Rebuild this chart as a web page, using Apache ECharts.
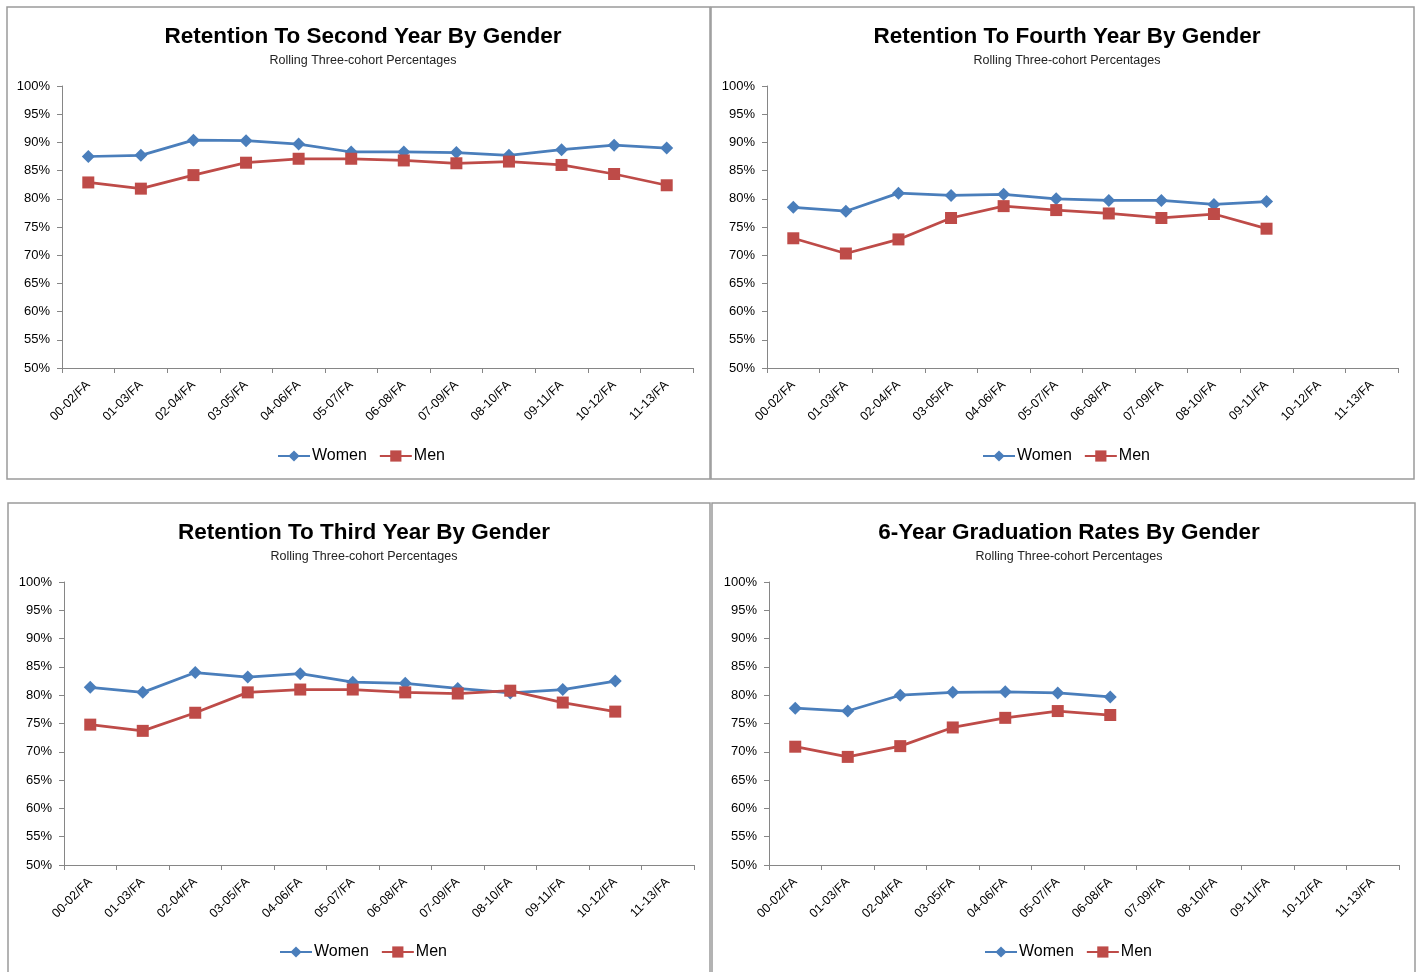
<!DOCTYPE html>
<html>
<head>
<meta charset="utf-8">
<script src="https://cdn.jsdelivr.net/npm/echarts@6/dist/echarts.min.js"></script>
<style>
html,body{margin:0;padding:0;background:#fff;}
#c{width:1416px;height:972px;}
</style>
</head>
<body>
<div id="c"></div>
<script>
// ---- data ----
const categories = ['00-02/FA','01-03/FA','02-04/FA','03-05/FA','04-06/FA','05-07/FA','06-08/FA','07-09/FA','08-10/FA','09-11/FA','10-12/FA','11-13/FA'];
const seriesNames = ['Women','Men'];
const subtitle = 'Rolling Three-cohort Percentages';
const titles = ['Retention To Second Year By Gender','Retention To Fourth Year By Gender','Retention To Third Year By Gender','6-Year Graduation Rates By Gender'];

const secondWomen = [87.5, 87.7, 90.4, 90.3, 89.7, 88.3, 88.3, 88.2, 87.7, 88.7, 89.5, 89.0];
const secondMen   = [82.9, 81.8, 84.2, 86.4, 87.1, 87.1, 86.8, 86.3, 86.6, 86.0, 84.4, 82.4];

const fourthWomen = [78.5, 77.8, 81.0, 80.6, 80.8, 80.0, 79.7, 79.7, 79.0, 79.5];
const fourthMen   = [73.0, 70.3, 72.8, 76.6, 78.7, 78.0, 77.4, 76.6, 77.3, 74.7];

const thirdWomen = [81.4, 80.5, 84.0, 83.2, 83.8, 82.3, 82.1, 81.2, 80.4, 81.0, 82.5];
const thirdMen   = [74.8, 73.7, 76.9, 80.5, 81.0, 81.0, 80.5, 80.3, 80.8, 78.7, 77.1];

const gradWomen = [77.7, 77.2, 80.0, 80.5, 80.6, 80.4, 79.7];
const gradMen   = [70.9, 69.1, 71.0, 74.3, 76.0, 77.2, 76.5];

const yMin = 50, yMax = 100, yStep = 5;

// ---- layout ----
const panelData = [[secondWomen, secondMen],[fourthWomen, fourthMen],[thirdWomen, thirdMen],[gradWomen, gradMen]];
const panels = [
  {box:[7,7,703,472],   grid:{left:62, top:86, width:631, height:282}, tx:358,  ty:20,  lx:272, ly:443},
  {box:[711,7,703,472], grid:{left:767,top:86, width:631, height:282}, tx:1062, ty:20,  lx:977, ly:443},
  {box:[8,503,702,480], grid:{left:64, top:582,width:630, height:283}, tx:359,  ty:516, lx:274, ly:939},
  {box:[712,503,703,480],grid:{left:769,top:582,width:630, height:283}, tx:1064, ty:516, lx:979, ly:939}
];

const blue = '#4A7EBB', red = '#BE4B48', axisCol = '#868686';
const font = '"Liberation Sans", Arial, sans-serif';

const option = {
  backgroundColor:'#fff',
  animation:false,
  title: panels.map((p,i)=>({
    text: titles[i], subtext: subtitle,
    left: p.tx, top: p.ty, textAlign:'center', itemGap: 6,
    textStyle:{fontFamily:font, fontWeight:'bold', fontSize:22.5, color:'#000'},
    subtextStyle:{fontFamily:font, fontSize:12.5, color:'#222'}
  })),
  legend: panels.map((p,i)=>({
    data: seriesNames, left: p.lx, top: p.ly, itemWidth:32, itemHeight:14, itemGap:12,
    textStyle:{fontFamily:font, fontSize:16, color:'#000', padding:[0,0,0,-3]}
  })),
  grid: panels.map(p=>Object.assign({containLabel:false}, p.grid)),
  xAxis: panels.map((p,i)=>({
    type:'category', gridIndex:i, data:categories, boundaryGap:true,
    axisLine:{lineStyle:{color:axisCol, width:1}},
    axisTick:{show:true, length:5, lineStyle:{color:axisCol}},
    axisLabel:{rotate:45, interval:0, fontFamily:font, fontSize:12.5, color:'#000', margin:15}
  })),
  yAxis: panels.map((p,i)=>({
    type:'value', gridIndex:i, min:yMin, max:yMax, interval:yStep,
    axisLine:{show:true, lineStyle:{color:axisCol, width:1}},
    axisTick:{show:true, length:5, lineStyle:{color:axisCol}},
    splitLine:{show:false},
    axisLabel:{formatter:'{value}%', fontFamily:font, fontSize:13, color:'#000', margin:12}
  })),
  series: [],
  graphic: panels.map(p=>({
    type:'rect', silent:true, z:-1,
    shape:{x:p.box[0], y:p.box[1], width:p.box[2], height:p.box[3]},
    style:{fill:'none', stroke:'#9a9a9a', lineWidth:1.5}
  }))
};

panelData.forEach((pair,i)=>{
  option.series.push({
    name:'Women', type:'line', xAxisIndex:i, yAxisIndex:i, data:pair[0],
    symbol:'diamond', symbolSize:13, showSymbol:true,
    itemStyle:{color:blue}, lineStyle:{color:blue, width:2.75}
  });
  option.series.push({
    name:'Men', type:'line', xAxisIndex:i, yAxisIndex:i, data:pair[1],
    symbol:'rect', symbolSize:12, showSymbol:true,
    itemStyle:{color:red}, lineStyle:{color:red, width:2.75}
  });
});

const chart = echarts.init(document.getElementById('c'));
chart.setOption(option);
</script>
</body>
</html>
